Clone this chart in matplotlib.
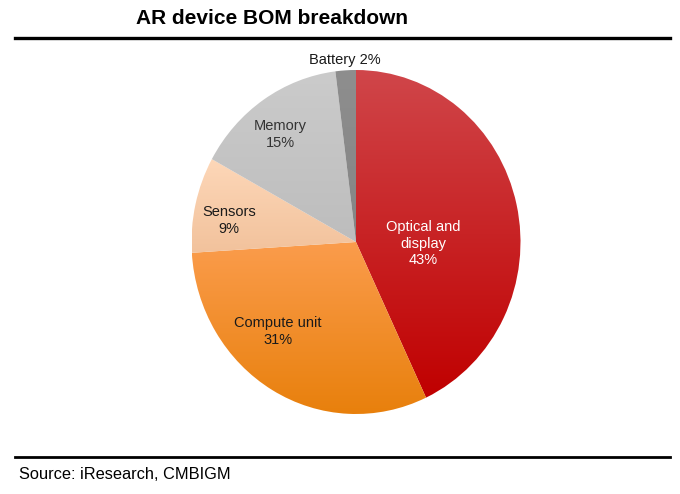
import numpy as np
import matplotlib
matplotlib.use("Agg")
import matplotlib.pyplot as plt
from matplotlib.colors import LinearSegmentedColormap

plt.rcParams['font.family'] = ['Liberation Sans', 'DejaVu Sans']

title = "AR device BOM breakdown"
source = "Source: iResearch, CMBIGM"
categories = ["Optical and\ndisplay", "Compute unit", "Sensors", "Memory", "Battery"]
values = [43, 31, 9, 15, 2]
# gradient colors (top, bottom) per slice
grad_top = ["#d0464a", "#fb9c4c", "#fdd7b8", "#cbcbcb", "#8e8e8e"]
grad_bot = ["#c00000", "#e8800c", "#f2c29c", "#bdbdbd", "#858585"]
text_colors = ["white", "#1a1a1a", "#1a1a1a", "#333333", "#1a1a1a"]
# label placement (data coords of the pie axes)
label_pos = [(0.41, -0.01), (-0.475, -0.52), (-0.77, 0.125), (-0.46, 0.625), (-0.07, 1.06)]

W, H = 680, 494
fig = plt.figure(figsize=(W / 100, H / 100), dpi=100)
fig.patch.set_facecolor("white")

# pie axes placed in pixel terms (slightly elliptical like the reference)
cx, cy, rx, ry = 356, 242, 164.5, 172
ax = fig.add_axes([(cx - rx) / W, (H - (cy + ry)) / H, 2 * rx / W, 2 * ry / H])
wedges, _ = ax.pie(values, startangle=90, counterclock=False, radius=1.0,
                   wedgeprops=dict(linewidth=0))
ax.set_aspect('auto')
ax.axis('off')

for w, ct, cb in zip(wedges, grad_top, grad_bot):
    w.set_facecolor('none')
    theta = np.linspace(np.deg2rad(w.theta1), np.deg2rad(w.theta2), 200)
    ys = np.concatenate([np.sin(theta), [0]])
    ytop, ybot = ys.max(), ys.min()
    cmap = LinearSegmentedColormap.from_list("g", [cb, ct])
    grad = np.linspace(0, 1, 256).reshape(-1, 1)
    im = ax.imshow(grad, cmap=cmap, origin='lower', aspect='auto',
                   extent=(-1, 1, ybot, ytop), interpolation='bilinear', zorder=1)
    im.set_clip_path(w)
ax.set_xlim(-1, 1)
ax.set_ylim(-1, 1)

for cat, v, (lx, ly), tc in zip(categories, values, label_pos, text_colors):
    if cat == "Battery":
        txt = f"{cat} {v}%"
    else:
        txt = f"{cat}\n{v}%"
    ax.text(lx, ly, txt, ha='center', va='center', fontsize=10.5, color=tc,
            linespacing=1.25, clip_on=False, zorder=5)

# title, rules, source
fig.text(272 / W, 1 - 18.5 / H, title, ha='center', va='center', fontsize=15,
         fontweight='bold', color='black')
fig.add_artist(plt.Line2D([15 / W, 670 / W], [1 - 37.7 / H, 1 - 37.7 / H],
                          color='black', linewidth=2.4, transform=fig.transFigure))
fig.add_artist(plt.Line2D([15 / W, 670 / W], [1 - 456.8 / H, 1 - 456.8 / H],
                          color='black', linewidth=2.0, transform=fig.transFigure))
fig.text(19 / W, 1 - 474 / H, source, ha='left', va='center', fontsize=11.8,
         color='black')

fig.savefig("out.png", dpi=100)
